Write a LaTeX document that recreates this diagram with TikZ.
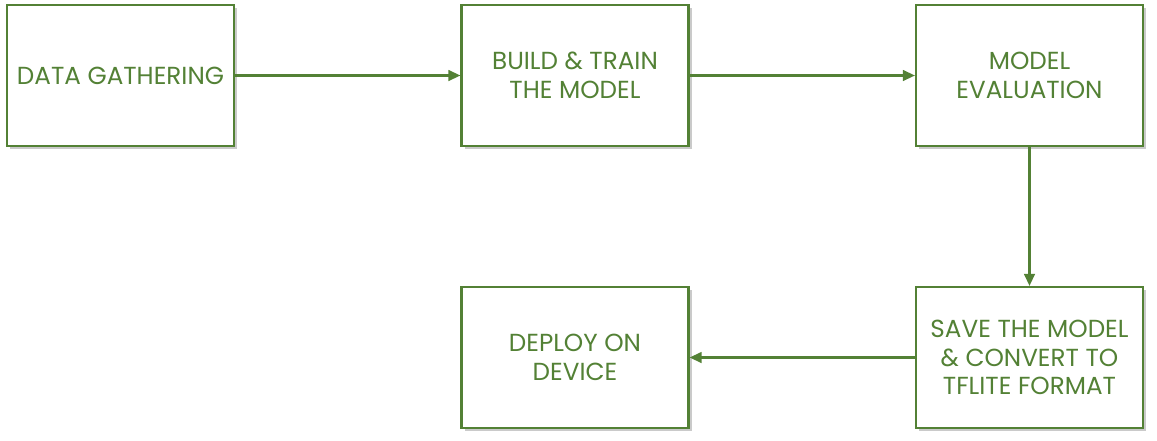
\documentclass[tikz,border=0pt]{standalone}
\usepackage{fontspec}
\setmainfont{Poppins}
\usetikzlibrary{shadows,arrows.meta}
\definecolor{grn}{HTML}{538135}
\begin{document}
\begin{tikzpicture}[x=0.75pt,y=-0.75pt,
  stepbox/.style={draw=grn,line width=1.6pt,fill=white,minimum width=227*0.75pt,minimum height=141*0.75pt,
    align=center,text=grn,font=\fontsize{18.5}{21.5}\selectfont,inner sep=0pt,
    drop shadow={shadow xshift=2.5pt,shadow yshift=-2.5pt,opacity=0.35,fill=black!60}},
  conn/.style={draw=grn,line width=1.6pt,-{Triangle[length=9pt,width=8pt]}}]
\useasboundingbox (0,0) rectangle (1157,440);
\node[stepbox] (a) at (120.5,75.5) {DATA GATHERING};
\node[stepbox] (b) at (575,75.5) {BUILD \& TRAIN\\THE MODEL};
\node[stepbox] (c) at (1029.5,75.5) {MODEL\\EVALUATION};
\node[stepbox] (d) at (1029.5,357.5) {SAVE THE MODEL\\\& CONVERT TO\\TFLITE FORMAT};
\node[stepbox] (e) at (575,357.5) {DEPLOY ON\\DEVICE};
\draw[conn] (a) -- (b);
\draw[conn] (b) -- (c);
\draw[conn] (c) -- (d);
\draw[conn] (d) -- (e);
\end{tikzpicture}
\end{document}
